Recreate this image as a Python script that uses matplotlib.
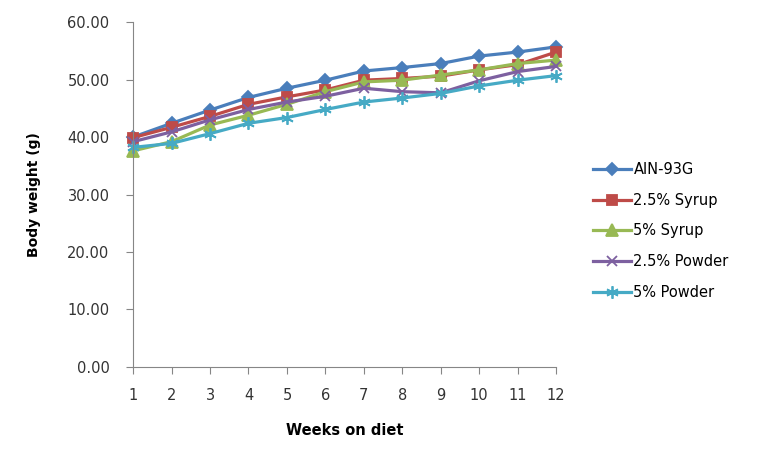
import matplotlib
matplotlib.use("Agg")
import matplotlib.pyplot as plt

weeks = list(range(1, 13))
ain93g = [40.0, 42.4, 44.7, 46.9, 48.5, 49.9, 51.5, 52.1, 52.8, 54.1, 54.8, 55.7]
syrup_25 = [39.9, 41.7, 43.6, 45.7, 47.0, 48.2, 49.9, 50.2, 50.6, 51.7, 52.6, 54.8]
syrup_5 = [37.6, 39.2, 42.1, 43.8, 45.7, 47.9, 49.6, 49.9, 50.8, 51.7, 52.8, 53.4]
powder_25 = [39.2, 40.9, 43.0, 44.8, 46.1, 47.1, 48.5, 47.9, 47.7, 49.8, 51.4, 52.3]
powder_5 = [38.2, 38.9, 40.6, 42.4, 43.4, 44.8, 46.1, 46.8, 47.6, 48.9, 49.9, 50.7]
labels = ["AIN-93G", "2.5% Syrup", "5% Syrup", "2.5% Powder", "5% Powder"]
y_ticks = [0, 10, 20, 30, 40, 50, 60]

series = [ain93g, syrup_25, syrup_5, powder_25, powder_5]
colors = ["#4A7EBB", "#BE4B48", "#98B954", "#7D60A0", "#46AAC5"]
markers = ["D", "s", "^", "x", (6, 2, 0)]
msizes = [6.5, 7.5, 8, 7, 9]

fig = plt.figure(figsize=(7.65, 4.62), dpi=100)
ax = fig.add_axes([0.174, 0.206, 0.553, 0.746])

for vals, lab, c, m, ms in zip(series, labels, colors, markers, msizes):
    ax.plot(weeks, vals, color=c, lw=2.3, marker=m, markersize=ms,
            markeredgecolor=c, markeredgewidth=1.3, label=lab, clip_on=False)

ax.set_xlim(1, 12)
ax.set_ylim(0, 60)
ax.set_xticks(weeks)
ax.set_yticks(y_ticks)
ax.set_yticklabels([f"{v:.2f}" for v in y_ticks])
ax.tick_params(direction="out", length=5, color="#868686", labelsize=10.5,
               labelcolor="#333333")
ax.tick_params(axis="x", pad=10)
ax.tick_params(axis="y", pad=12)
for s in ["top", "right"]:
    ax.spines[s].set_visible(False)
for s in ["left", "bottom"]:
    ax.spines[s].set_color("#868686")

ax.set_xlabel("Weeks on diet", fontsize=10.5, fontweight="bold", labelpad=15)
ax.set_ylabel("Body weight (g)", fontsize=10, fontweight="bold", labelpad=19)

fig.legend(loc="upper left", bbox_to_anchor=(0.767, 0.662), frameon=False,
           fontsize=10.5, labelspacing=1.08, handlelength=2.6,
           handletextpad=0.2, borderaxespad=0)

fig.savefig("out.png", dpi=100)
